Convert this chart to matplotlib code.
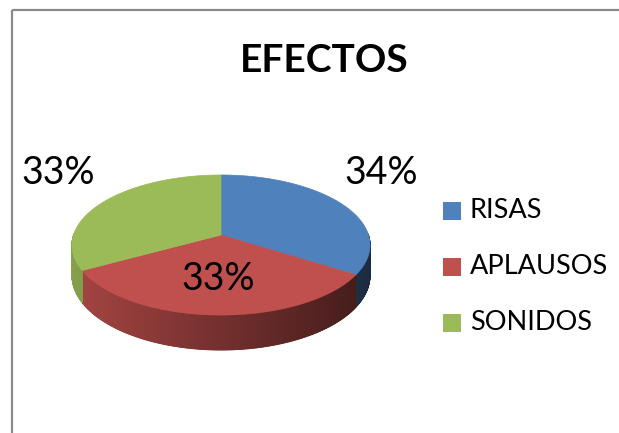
import numpy as np
import matplotlib.pyplot as plt
from matplotlib.patches import Polygon, Rectangle

# data
labels = ["RISAS", "APLAUSOS", "SONIDOS"]
values = [34, 33, 33]
colors = ["#4F81BD", "#C0504D", "#9BBB59"]
title = "EFECTOS"

plt.rcParams['font.family'] = ['Lato', 'DejaVu Sans']

fig = plt.figure(figsize=(6.19, 4.33), dpi=100)
ax = fig.add_axes([0, 0, 1, 1])
ax.set_xlim(0, 619)
ax.set_ylim(433, 0)
ax.axis('off')

# chart border (cut off on the right and bottom)
ax.add_patch(Rectangle((12, 9.5), 700, 500, fill=False, ec="#8a8a8a", lw=1.6))

# 3D pie geometry (simple perspective on a tilted disc)
cx, cy = 221, 235
rx, ry = 147.5, 68.6
persp = 0.143
depth = 30


def proj(t, drop=0.0):
    s = 1.0 / (1.0 + persp * np.sin(t))
    return cx + rx * np.cos(t) * s, cy - ry * np.sin(t) * s + drop * s


def shade(hexcol, x):
    # darker towards the right, like the Excel gradient
    f = 0.86 - 0.52 * (x - 72) / (370 - 72)
    f = min(max(f, 0.3), 0.9)
    c = np.array([int(hexcol[i:i + 2], 16) for i in (1, 3, 5)]) / 255.0
    return tuple(c * f)


fr = np.array(values, dtype=float) / sum(values)
bounds = np.pi / 2 - 2 * np.pi * np.concatenate([[0], np.cumsum(fr)])

# side walls, front half only
for i in range(len(values)):
    a0, a1 = bounds[i], bounds[i + 1]  # a0 > a1 (clockwise)
    ts = np.linspace(a0, a1, 400)
    for k in range(len(ts) - 1):
        tm = 0.5 * (ts[k] + ts[k + 1])
        if np.sin(tm) > 0.02:
            continue
        x0, y0 = proj(ts[k])
        x1, y1 = proj(ts[k + 1])
        x0b, y0b = proj(ts[k], depth)
        x1b, y1b = proj(ts[k + 1], depth)
        col = shade(colors[i], 0.5 * (x0 + x1))
        ax.add_patch(Polygon([(x0, y0), (x1, y1), (x1b, y1b), (x0b, y0b)],
                             closed=True, fc=col, ec=col, lw=0.6, zorder=2))

# top faces
for i in range(len(values)):
    ts = np.linspace(bounds[i], bounds[i + 1], 200)
    xs, ys = proj(ts)
    pts = [(cx, cy)] + list(zip(xs, ys))
    ax.add_patch(Polygon(pts, closed=True, fc=colors[i], ec=colors[i],
                         lw=0.5, zorder=3))

# percentage labels
pcts = [f"{v / sum(values) * 100:.0f}%" for v in values]
label_pos = [(381, 173), (218, 279), (58, 173)]
for p, (lx, ly) in zip(pcts, label_pos):
    ax.text(lx, ly, p, fontsize=27, ha='center', va='center', color='black',
            zorder=5)

# title
ax.text(324, 61, title, fontsize=28, fontweight='bold', ha='center',
        va='center', color='black')

# legend
for i, lab in enumerate(labels):
    y = 211 + 56 * i
    ax.add_patch(Rectangle((443, y - 9), 18, 18, fc=colors[i], ec='none'))
    ax.text(470, y, lab, fontsize=19.5, ha='left', va='center', color='black')

fig.savefig("out.png", dpi=100)
